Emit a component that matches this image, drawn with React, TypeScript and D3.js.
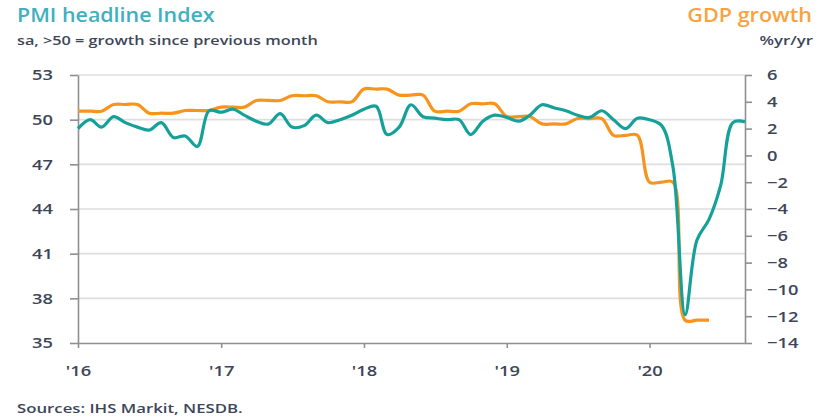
import { useEffect, useRef } from "react";
import * as d3 from "d3";

// PMI headline index, monthly Jan 2016 .. Sep 2020
const pmiStart = { year: 2016, month: 0 };
const pmiValues = [
  49.4, 50.0, 49.5, 50.2, 49.8, 49.5, 49.3, 49.8, 48.8, 48.9, 48.2, 50.6,
  50.5, 50.7, 50.3, 49.9, 49.7, 50.4, 49.5, 49.6, 50.3, 49.8, 50.0, 50.3,
  50.7, 50.9, 49.0, 49.5, 51.0, 50.2, 50.1, 50.0, 50.0, 49.0, 49.9, 50.3,
  50.15, 49.9, 50.3, 51.0, 50.8, 50.6, 50.3, 50.15, 50.6, 50.0, 49.4, 50.1,
  50.0, 49.6, 46.8, 36.9, 41.9, 43.3, 45.6, 49.8, 49.85,
];

// GDP growth %yr/yr, quarterly Q1 2016 .. Q2 2020
const gdpQuarters = [
  3.3, 3.8, 3.15, 3.35,
  3.6, 4.1, 4.45, 4.0,
  4.95, 4.5, 3.3, 3.85,
  2.9, 2.35, 2.75, 1.5,
  -2.0, -12.3,
];

const leftTicks = [35, 38, 41, 44, 47, 50, 53];
const rightTicks = [6, 4, 2, 0, -2, -4, -6, -8, -10, -12, -14];
const yearTicks = [2016, 2017, 2018, 2019, 2020];

const TEAL = "#15a09a";
const ORANGE = "#f7941d";
const TEXT = "#3d4658";
const AXIS = "#8f8f8f";
const FONT = "'Open Sans', sans-serif";

// widen text horizontally (the source font is broader than Open Sans)
function stretch(sel: d3.Selection<any, any, any, any>, factor: number) {
  sel.each(function () {
    const el = this as SVGTextElement;
    const w = el.getComputedTextLength();
    el.setAttribute("textLength", String(w * factor));
    el.setAttribute("lengthAdjust", "spacingAndGlyphs");
  });
}

export default function App() {
  const svgRef = useRef<SVGSVGElement | null>(null);

  useEffect(() => {
    document.body.style.margin = "0";
    if (!svgRef.current) return;

    const W = 827;
    const H = 418;
    const margin = { top: 75, right: 82, bottom: 75, left: 78 };
    const width = W - margin.left - margin.right;
    const height = H - margin.top - margin.bottom;

    d3.select(svgRef.current).selectAll("*").remove();

    const root = d3.select(svgRef.current)
      .attr("width", W)
      .attr("height", H)
      .style("font-family", FONT)
      .style("display", "block");

    const svg = root.append("g")
      .attr("transform", `translate(${margin.left},${margin.top})`);

    const monthDate = (i: number) => new Date(pmiStart.year, pmiStart.month + i, 1);

    const pmi = pmiValues.map((v, i) => ({ date: monthDate(i), value: v }));
    // each quarter's value shown on its three months
    const gdp = gdpQuarters.flatMap((v, q) =>
      [0, 1, 2].map(k => ({ date: monthDate(q * 3 + k), value: v }))
    );

    const x = d3.scaleTime()
      .domain([monthDate(0), monthDate(pmiValues.length - 1)])
      .range([0, width]);

    const yL = d3.scaleLinear().domain([35, 53]).range([height, 0]);
    const yR = d3.scaleLinear().domain([-14, 6]).range([height, 0]);

    // grid lines (left axis)
    svg.append("g")
      .selectAll("line")
      .data(leftTicks.filter(t => t > 35))
      .enter()
      .append("line")
      .attr("x1", 0)
      .attr("x2", width)
      .attr("y1", d => yL(d))
      .attr("y2", d => yL(d))
      .attr("stroke", "#dedede")
      .attr("stroke-width", 1.6);

    const styleAxis = (g: d3.Selection<SVGGElement, unknown, null, undefined>) => {
      g.select(".domain").attr("stroke", AXIS).attr("stroke-width", 1.6);
      g.selectAll(".tick line").attr("stroke", AXIS).attr("stroke-width", 1.6);
      g.selectAll(".tick text")
        .attr("fill", TEXT)
        .attr("font-size", "15px")
        .attr("font-weight", 600)
        .attr("font-family", FONT);
      stretch(g.selectAll(".tick text"), 1.22);
    };

    // left axis
    svg.append("g")
      .call(d3.axisLeft(yL).tickValues(leftTicks).tickSize(8).tickPadding(17).tickSizeOuter(0))
      .call(styleAxis);

    // right axis
    svg.append("g")
      .attr("transform", `translate(${width},0)`)
      .call(d3.axisRight(yR).tickValues(rightTicks).tickSize(7).tickPadding(15).tickSizeOuter(0))
      .call(styleAxis);

    // bottom axis
    svg.append("g")
      .attr("transform", `translate(0,${height})`)
      .call(d3.axisBottom(x)
        .tickValues(yearTicks.map(y => new Date(y, 0, 1)))
        .tickFormat(d => "'" + d3.timeFormat("%y")(d as Date))
        .tickSize(5)
        .tickPadding(17)
        .tickSizeOuter(0))
      .call(styleAxis);

    // GDP line (right axis)
    const gdpLine = d3.line<{ date: Date; value: number }>()
      .x(d => x(d.date))
      .y(d => yR(d.value))
      .curve(d3.curveCatmullRom.alpha(0.5));

    svg.append("path")
      .datum(gdp)
      .attr("fill", "none")
      .attr("stroke", ORANGE)
      .attr("stroke-width", 3.2)
      .attr("stroke-linejoin", "round")
      .attr("d", gdpLine);

    // PMI line (left axis)
    const pmiLine = d3.line<{ date: Date; value: number }>()
      .x(d => x(d.date))
      .y(d => yL(d.value))
      .curve(d3.curveCatmullRom.alpha(0.5));

    svg.append("path")
      .datum(pmi)
      .attr("fill", "none")
      .attr("stroke", TEAL)
      .attr("stroke-width", 3.2)
      .attr("stroke-linejoin", "round")
      .attr("d", pmiLine);

    // titles
    const addText = (tx: number, ty: number, txt: string, size: number, fill: string, anchor: string, factor: number) => {
      const t = root.append("text")
        .attr("x", tx).attr("y", ty)
        .attr("text-anchor", anchor)
        .attr("fill", fill)
        .attr("font-size", `${size}px`)
        .attr("font-weight", 600)
        .text(txt);
      stretch(t, factor);
    };

    addText(17, 22, "PMI headline Index", 20, "#3fb0bf", "start", 1.07);
    addText(17, 45, "sa, >50 = growth since previous month", 13, TEXT, "start", 1.25);
    addText(812, 22, "GDP growth", 20, "#f8a33f", "end", 1.08);
    addText(813, 45, "%yr/yr", 13, TEXT, "end", 1.29);
    addText(17, 413, "Sources: IHS Markit, NESDB.", 13, TEXT, "start", 1.29);
  }, []);

  return <svg ref={svgRef}></svg>;
}
